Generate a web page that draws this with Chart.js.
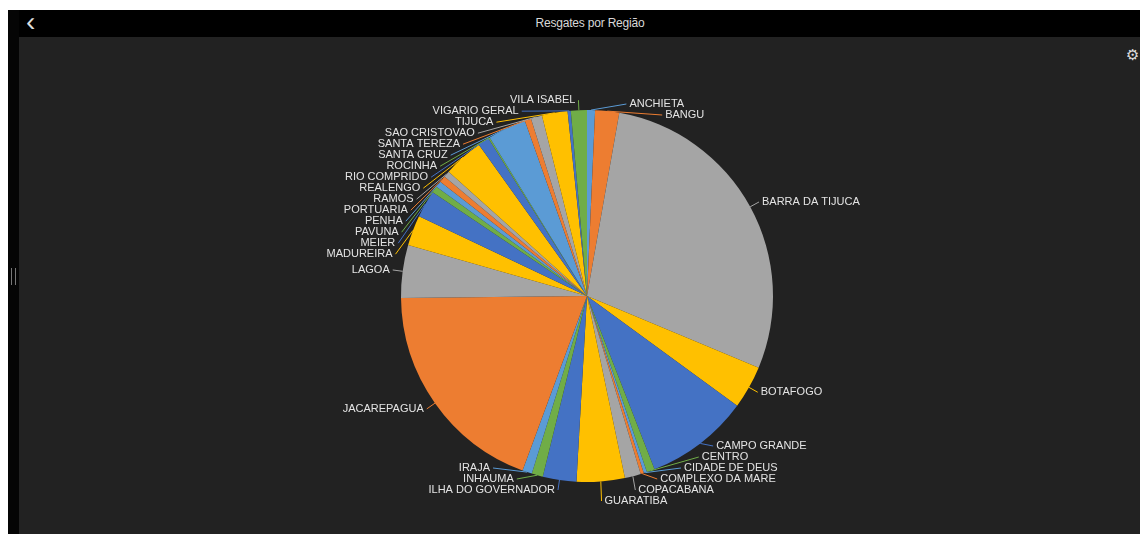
<!DOCTYPE html>
<html>
<head>
<meta charset="utf-8">
<script src="https://cdn.jsdelivr.net/npm/chart.js@4/dist/chart.umd.min.js"></script>
<style>
html,body{margin:0;padding:0;background:#fff;width:1140px;height:534px;overflow:hidden;font-family:"Liberation Sans",Arial,sans-serif}
#side{position:absolute;left:8px;top:10px;width:11px;height:524px;background:#050505}
#grip{position:absolute;left:11px;top:268px;width:5px;height:17px;border-left:1px solid #777;border-right:1px solid #777;box-sizing:border-box}
#head{position:absolute;left:8px;top:10px;width:1132px;height:27px;background:#000;color:#d8d8d8}
#title{position:absolute;left:32px;width:1100px;top:6px;text-align:center;font-size:12px;letter-spacing:-0.2px}
#back{position:absolute;left:18px;top:-4px;font-size:28px;color:#ddd;font-family:"Liberation Sans"}
#body{position:absolute;left:19px;top:37px;width:1121px;height:497px;background:#222}
#gear{position:absolute;left:1126px;top:46px;font-size:15px;color:#ddd;font-family:"DejaVu Sans"}
canvas{position:absolute;left:0;top:0}
</style>
</head>
<body>
<div id="head"><span id="back">‹</span><div id="title">Resgates por Região</div></div>
<div id="side"></div><div id="grip"></div>
<div id="body"></div>
<div id="gear">⚙</div>
<canvas id="c" width="1140" height="534"></canvas>
<script>
const regioes=["ANCHIETA","BANGU","BARRA DA TIJUCA","BOTAFOGO","CAMPO GRANDE","CENTRO","CIDADE DE DEUS","COMPLEXO DA MARE","COPACABANA","GUARATIBA","ILHA DO GOVERNADOR","INHAUMA","IRAJA","JACAREPAGUA","LAGOA","MADUREIRA","MEIER","PAVUNA","PENHA","PORTUARIA","RAMOS","REALENGO","RIO COMPRIDO","ROCINHA","SANTA CRUZ","SANTA TEREZA","SAO CRISTOVAO","TIJUCA","VIGARIO GERAL","VILA ISABEL"];
const resgates=[5,15,205,27,65,5,2,2,10,30,21,7,6,138,33,19,17,4,4,4,4,25,7,1,24,4,7,16,2,10];
const paleta=["#5B9BD5","#ED7D31","#A5A5A5","#FFC000","#4472C4","#70AD47"];

// rotulos externos com linhas guia, empilhados por lado
const outLabels={
id:"outLabels",
afterDatasetsDraw(chart){
const ctx=chart.ctx;
const arcs=chart.getDatasetMeta(0).data;
const items=arcs.map((a,i)=>{
const mid=(a.startAngle+a.endAngle)/2;
const r=a.outerRadius,R=r+10;
return {i,mid,cx:a.x,cy:a.y,R,
ex:a.x+Math.cos(mid)*r,ey:a.y+Math.sin(mid)*r,
ax:a.x+Math.cos(mid)*R,y:a.y+Math.sin(mid)*R,
side:Math.cos(mid)>=0?1:-1};
});
const gap=11;
[[1,104,501],[-1,96,490]].forEach(([s,top,lim])=>{
const g=items.filter(o=>o.side===s).sort((p,q)=>p.y-q.y);
if(!g.length)return;
g[0].y=Math.max(g[0].y,top);
for(let k=1;k<g.length;k++)g[k].y=Math.max(g[k].y,g[k-1].y+gap);
g[g.length-1].y=Math.min(g[g.length-1].y,lim);
for(let k=g.length-2;k>=0;k--)g[k].y=Math.min(g[k].y,g[k+1].y-gap);
});
ctx.save();
ctx.font="11px 'Liberation Sans', Arial, sans-serif";
ctx.textBaseline="middle";
ctx.lineWidth=1;
items.forEach(o=>{
const dy=o.y-o.cy;
const circ=Math.abs(dy)<o.R?Math.sqrt(o.R*o.R-dy*dy):0;
const off=Math.max(circ,Math.abs(o.ax-o.cx));
const x=o.cx+o.side*off;
ctx.strokeStyle=paleta[o.i%paleta.length];
ctx.beginPath();ctx.moveTo(o.ex,o.ey);ctx.lineTo(x,o.y);ctx.stroke();
ctx.fillStyle="#e4e4e4";
ctx.textAlign=o.side>0?"left":"right";
ctx.fillText(regioes[o.i],x+o.side*3,o.y);
});
ctx.restore();
}
};

new Chart(document.getElementById("c"),{
type:"pie",
data:{labels:regioes,datasets:[{data:resgates,backgroundColor:regioes.map((_,i)=>paleta[i%paleta.length]),borderWidth:0}]},
options:{responsive:false,animation:false,
layout:{padding:{left:401,right:367,top:110,bottom:52}},
plugins:{legend:{display:false},tooltip:{enabled:false}}},
plugins:[outLabels]
});
</script>
</body>
</html>
